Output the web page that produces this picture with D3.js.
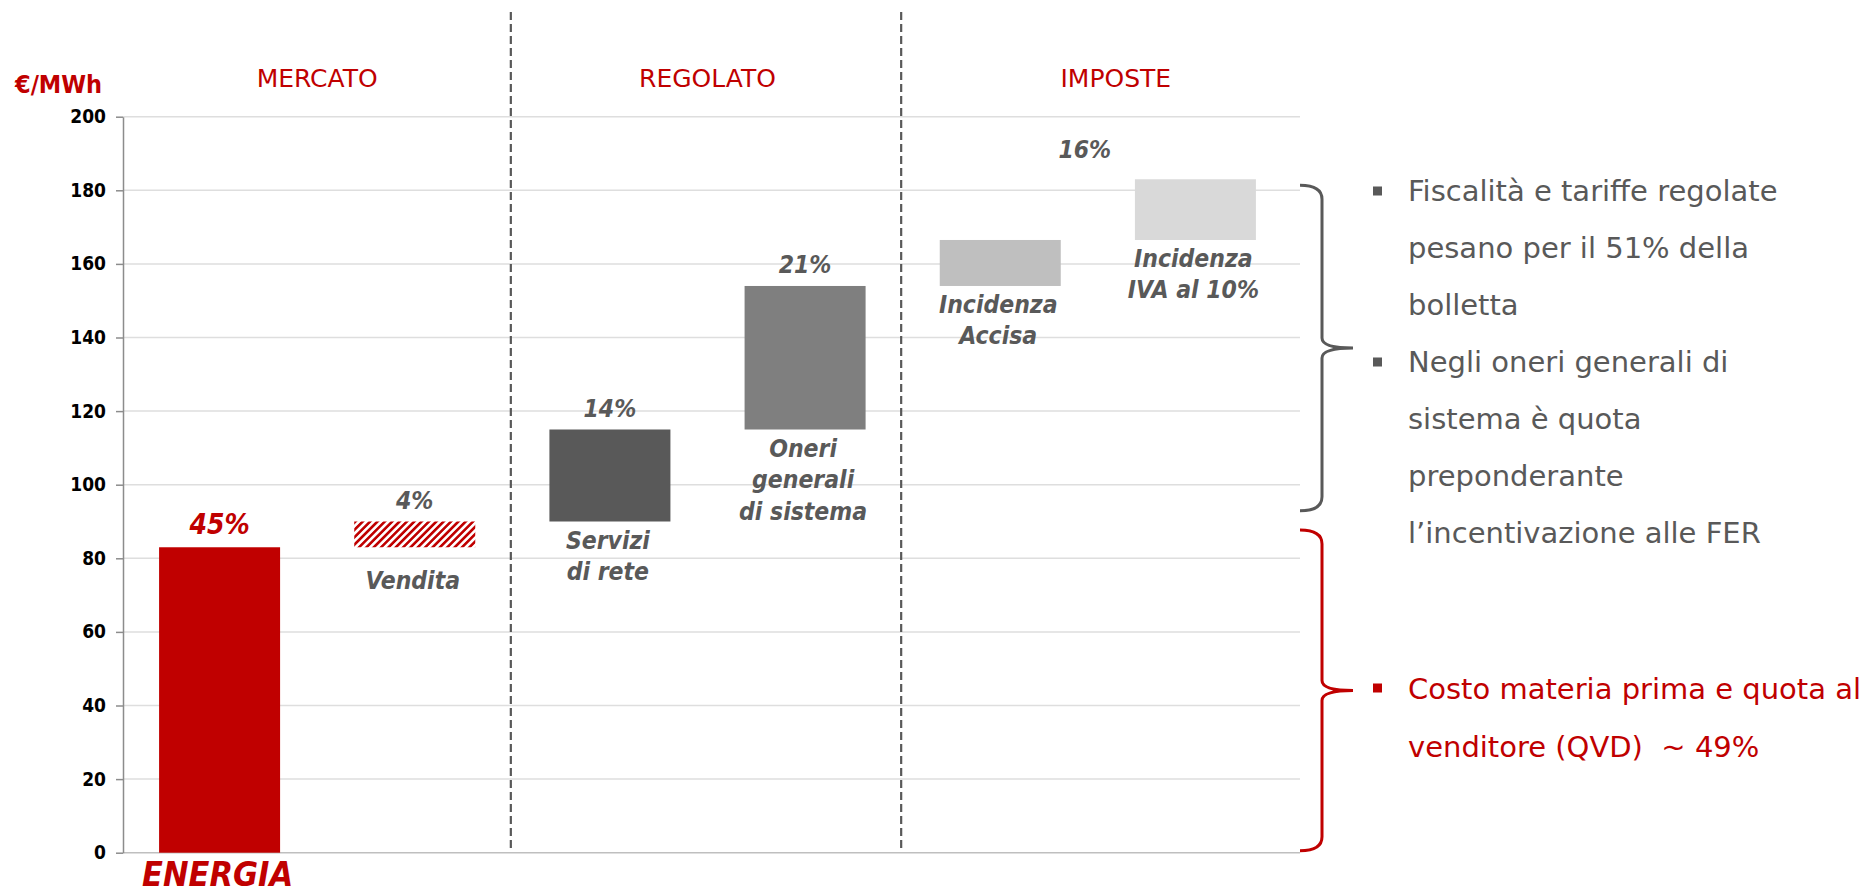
<!DOCTYPE html>
<html>
<head>
<meta charset="utf-8">
<script src="https://cdn.jsdelivr.net/npm/d3@7"></script>
<style>
  body { margin: 0; background: #fff; }
  svg { display: block; }
  .cond { font-family: "DejaVu Sans Condensed", "DejaVu Sans", sans-serif; font-stretch: condensed; }
</style>
</head>
<body>
<div id="chart"></div>
<script>
// bar categories and their floating ranges (€/MWh)
var categories = ["ENERGIA", "Vendita", "Servizi", "Oneri", "Accisa", "IVA"]
var barLow  = [0, 83, 90, 115, 154, 166.5]
var barHigh = [83, 90, 115, 154, 166.5, 183]
var barShare = ["45%", "4%", "14%", "21%", "", ""]
var barLabels = [[], ["Vendita"], ["Servizi", "di rete"], ["Oneri", "generali", "di sistema"],
                 ["Incidenza", "Accisa"], ["Incidenza", "IVA al 10%"]]

var groups = ["MERCATO", "REGOLATO", "IMPOSTE"]
var groupShare = "16%"
var yTicks = [0, 20, 40, 60, 80, 100, 120, 140, 160, 180, 200]

var braceSpans = [[92.9, 181.4], [0.5, 87.7]]
var noteGray = [
  ["Fiscalità e tariffe regolate", "pesano per il 51% della", "bolletta"],
  ["Negli oneri generali di", "sistema è quota", "preponderante", "l’incentivazione alle FER"]
]
var noteRed = ["Costo materia prima e quota al", "venditore (QVD)  ~ 49%"]

var red = "#c00000", gray = "#595959"
var fills = ["#c00000", "url(#hatch)", "#595959", "#7f7f7f", "#bfbfbf", "#d9d9d9"]

var W = 1860, H = 895
var svg = d3.select("#chart").append("svg")
    .attr("width", W).attr("height", H)

var defs = svg.append("defs")
var pat = defs.append("pattern")
    .attr("id", "hatch")
    .attr("patternUnits", "userSpaceOnUse")
    .attr("width", 5.2).attr("height", 5.2)
    .attr("patternTransform", "rotate(45)")
pat.append("rect").attr("width", 5.2).attr("height", 5.2).attr("fill", "#fff")
pat.append("line").attr("x1", 1.3).attr("y1", 0).attr("x2", 1.3).attr("y2", 5.2)
    .attr("stroke", red).attr("stroke-width", 2.6)

var x = d3.scaleBand()
    .domain(categories)
    .range([122, 1293])
    .paddingInner(0.38)
    .paddingOuter(0.19)

var y = d3.scaleLinear()
    .domain([0, 200])
    .range([852.7, 116.7])

// gridlines
svg.append("g").selectAll("line")
  .data(yTicks)
  .enter().append("line")
    .attr("x1", 123).attr("x2", 1300)
    .attr("y1", function(d){ return y(d) }).attr("y2", function(d){ return y(d) })
    .attr("stroke", function(d){ return d === 0 ? "#bfbfbf" : "#dedede" })
    .attr("stroke-width", 1.5)

// y axis
var yAxis = svg.append("g")
    .attr("transform", "translate(123,0)")
    .call(d3.axisLeft(y).tickValues(yTicks).tickSize(7).tickSizeOuter(0).tickPadding(10))
yAxis.select(".domain").attr("stroke", "#8c8c8c").attr("stroke-width", 1.5)
yAxis.selectAll(".tick line").attr("stroke", "#8c8c8c").attr("stroke-width", 1.5)
yAxis.selectAll(".tick text")
    .attr("class", "cond")
    .attr("font-size", 19).attr("font-weight", "bold").attr("fill", "#000")

svg.append("text")
    .attr("class", "cond")
    .attr("x", 15).attr("y", 92.7)
    .attr("font-size", 25).attr("font-weight", "bold").attr("fill", red)
    .text("€/MWh")

// bars
var bars = categories.map(function(c, i){
  return {key: c, low: barLow[i], high: barHigh[i], share: barShare[i], label: barLabels[i], fill: fills[i]}
})

svg.selectAll(".bar")
  .data(bars)
  .enter().append("rect")
    .attr("class", "bar")
    .attr("x", function(d){ return x(d.key) })
    .attr("width", x.bandwidth())
    .attr("y", function(d){ return y(d.high) })
    .attr("height", function(d){ return y(d.low) - y(d.high) })
    .attr("fill", function(d){ return d.fill })

// share labels above bars
svg.selectAll(".share")
  .data(bars.filter(function(d){ return d.share }))
  .enter().append("text")
    .attr("class", "cond")
    .attr("x", function(d){ return x(d.key) + x.bandwidth() / 2 })
    .attr("y", function(d){ return y(d.high) - 13 })
    .attr("text-anchor", "middle")
    .attr("font-style", "italic").attr("font-weight", "bold")
    .attr("font-size", function(d){ return d.key === "ENERGIA" ? 28 : 24.5 })
    .attr("fill", function(d){ return d.key === "ENERGIA" ? red : gray })
    .text(function(d){ return d.share })

// imposte share, between the two tax bars
svg.append("text")
    .attr("class", "cond")
    .attr("x", (x("Accisa") + x("IVA") + x.bandwidth()) / 2 - 13)
    .attr("y", 158)
    .attr("text-anchor", "middle")
    .attr("font-style", "italic").attr("font-weight", "bold")
    .attr("font-size", 24.5).attr("fill", gray)
    .text(groupShare)

// names under bars
bars.forEach(function(d){
  var gap = d.key === "Vendita" ? 42 : 27
  var t = svg.append("text")
      .attr("class", "cond")
      .attr("text-anchor", "middle")
      .attr("font-style", "italic").attr("font-weight", "bold")
      .attr("font-size", 24.5).attr("fill", gray)
  d.label.forEach(function(line, j){
    t.append("tspan")
      .attr("x", x(d.key) + x.bandwidth() / 2 - 2)
      .attr("y", y(d.low) + gap + j * 31.5)
      .text(line)
  })
})

svg.append("text")
    .attr("class", "cond")
    .attr("x", x("ENERGIA") + x.bandwidth() / 2 - 2)
    .attr("y", 886)
    .attr("text-anchor", "middle")
    .attr("font-style", "italic").attr("font-weight", "bold")
    .attr("font-size", 34).attr("fill", red)
    .text("ENERGIA")

// dashed separators between groups
var x0 = x.range()[0], step = x.step()
svg.selectAll(".sep")
  .data([2, 4])
  .enter().append("line")
    .attr("x1", function(d){ return x0 + d * step - 1.5 }).attr("x2", function(d){ return x0 + d * step - 1.5 })
    .attr("y1", 12).attr("y2", 852)
    .attr("stroke", gray).attr("stroke-width", 2.2)
    .attr("stroke-dasharray", "8,4")

// group headers
var headerX = [x0 + step, x0 + 3 * step, x0 + 5 * step + 18]
svg.selectAll(".group")
  .data(groups)
  .enter().append("text")
    .attr("x", function(d, i){ return headerX[i] })
    .attr("y", 86.7)
    .attr("text-anchor", "middle")
    .attr("font-family", "DejaVu Sans, sans-serif")
    .attr("font-size", 25).attr("fill", red)
    .text(function(d){ return d })

// curly braces
function brace(span, color) {
  var bx = 1322, top = y(span[1]), bot = y(span[0]), mid = (top + bot) / 2
  var p = "M" + (bx - 22) + "," + top +
          " Q" + bx + "," + top + " " + bx + "," + (top + 14) +
          " L" + bx + "," + (mid - 10) +
          " Q" + bx + "," + mid + " " + (bx + 31) + "," + mid +
          " Q" + bx + "," + mid + " " + bx + "," + (mid + 10) +
          " L" + bx + "," + (bot - 14) +
          " Q" + bx + "," + bot + " " + (bx - 22) + "," + bot
  svg.append("path").attr("d", p)
      .attr("fill", "none").attr("stroke", color).attr("stroke-width", 3)
}
brace(braceSpans[0], gray)
brace(braceSpans[1], red)

// notes on the right
var lineH = 57, row = 0
noteGray.forEach(function(block){
  var base = 201 + row * lineH
  svg.append("rect").attr("x", 1373).attr("y", base - 14.5).attr("width", 9).attr("height", 9).attr("fill", gray)
  block.forEach(function(line){
    svg.append("text")
        .attr("x", 1408).attr("y", 201 + row * lineH)
        .attr("font-family", "DejaVu Sans, sans-serif")
        .attr("font-size", 29).attr("fill", gray)
        .text(line)
    row++
  })
})

svg.append("rect").attr("x", 1373).attr("y", 699 - 15.5).attr("width", 9).attr("height", 9).attr("fill", red)
noteRed.forEach(function(line, j){
  svg.append("text")
      .attr("x", 1408).attr("y", 699 + j * 58)
      .attr("font-family", "DejaVu Sans, sans-serif")
      .attr("font-size", 29).attr("fill", red)
      .style("white-space", "pre")
      .text(line)
})
</script>
</body>
</html>
